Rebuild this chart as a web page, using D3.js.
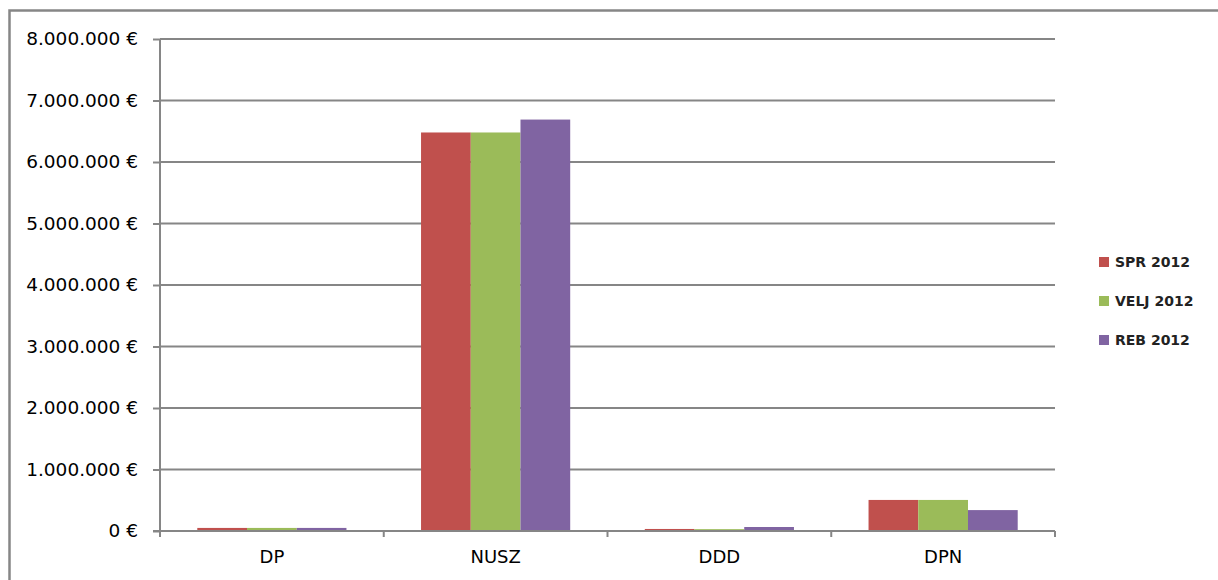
<!DOCTYPE html>
<html><head><meta charset="utf-8">
<script src="https://cdn.jsdelivr.net/npm/d3@7"></script>
<style>html,body{margin:0;padding:0;background:#fff;}</style>
</head><body>
<svg id="c" width="1218" height="580"></svg>
<script>
const categories = ["DP", "NUSZ", "DDD", "DPN"];
const seriesNames = ["SPR 2012", "VELJ 2012", "REB 2012"];
const spr2012  = [50000, 6480000, 33000, 505000];
const velj2012 = [50000, 6480000, 30000, 505000];
const reb2012  = [50000, 6690000, 65000, 340000];
const colors = ["#C0504D", "#9BBB59", "#8064A2"];
const yTicks = [0, 1000000, 2000000, 3000000, 4000000, 5000000, 6000000, 7000000, 8000000];

const series = [spr2012, velj2012, reb2012];
const svg = d3.select("#c");
const gray = "#868686";

// outer chart border
svg.append("rect").attr("x", 9.5).attr("y", 10.5).attr("width", 1240).attr("height", 600)
  .attr("fill", "none").attr("stroke", gray).attr("stroke-width", 2.5);

const pLeft = 160, pRight = 1055, pTop = 39, pBottom = 531;
const x = d3.scaleBand().domain(categories).range([pLeft, pRight]).paddingInner(0).paddingOuter(0);
const y = d3.scaleLinear().domain([0, 8000000]).range([pBottom, pTop]);
const gap = 1.5;
const bw = x.bandwidth() / (seriesNames.length + gap);
const xs = d3.scaleBand().domain(seriesNames).range([bw * gap / 2, x.bandwidth() - bw * gap / 2]).padding(0);

const fmt = v => d3.format(",")(v).replace(/,/g, ".") + " €";

// gridlines
svg.append("g").selectAll("line").data(yTicks.filter(d => d > 0)).join("line")
  .attr("x1", pLeft).attr("x2", pRight).attr("y1", d => y(d)).attr("y2", d => y(d))
  .attr("stroke", gray).attr("stroke-width", 2);

// bars
categories.forEach((c, i) => {
  seriesNames.forEach((s, j) => {
    const v = series[j][i];
    svg.append("rect").attr("x", x(c) + xs(s)).attr("width", xs.bandwidth())
      .attr("y", y(v)).attr("height", y(0) - y(v)).attr("fill", colors[j]);
  });
});

// y axis
const yAxis = d3.axisLeft(y).tickValues(yTicks).tickFormat(fmt).tickSize(7).tickPadding(15);
const ga = svg.append("g").attr("transform", `translate(${pLeft},0)`).call(yAxis);
ga.select(".domain").remove();
ga.selectAll(".tick line").attr("stroke", gray).attr("stroke-width", 2);
ga.selectAll("text").attr("font-family", "DejaVu Sans").attr("font-size", 18.5).attr("fill", "#000");
svg.append("line").attr("x1", pLeft).attr("x2", pLeft).attr("y1", pTop).attr("y2", pBottom + 6)
  .attr("stroke", gray).attr("stroke-width", 2);

// x axis
const xAxis = d3.axisBottom(x).tickSize(0).tickPadding(19);
const gx = svg.append("g").attr("transform", `translate(0,${pBottom})`).call(xAxis);
gx.select(".domain").remove();
gx.selectAll("text").attr("font-family", "DejaVu Sans").attr("font-size", 18).attr("fill", "#000");
svg.append("line").attr("x1", pLeft - 7).attr("x2", pRight).attr("y1", pBottom).attr("y2", pBottom)
  .attr("stroke", gray).attr("stroke-width", 2);
svg.append("g").selectAll("line").data(categories.map(c => x(c)).concat([pRight])).join("line")
  .attr("x1", d => d).attr("x2", d => d).attr("y1", pBottom).attr("y2", pBottom + 6)
  .attr("stroke", gray).attr("stroke-width", 2);

// legend
const lg = svg.append("g");
seriesNames.forEach((s, j) => {
  const cy = 262 + j * 39;
  lg.append("rect").attr("x", 1099).attr("y", cy - 5).attr("width", 10).attr("height", 10).attr("fill", colors[j]);
  lg.append("text").attr("x", 1115).attr("y", cy).attr("dy", "0.36em")
    .attr("font-family", "DejaVu Sans").attr("font-weight", "bold").attr("font-size", 14)
    .attr("fill", "#222").text(s);
});
</script>
</body></html>
